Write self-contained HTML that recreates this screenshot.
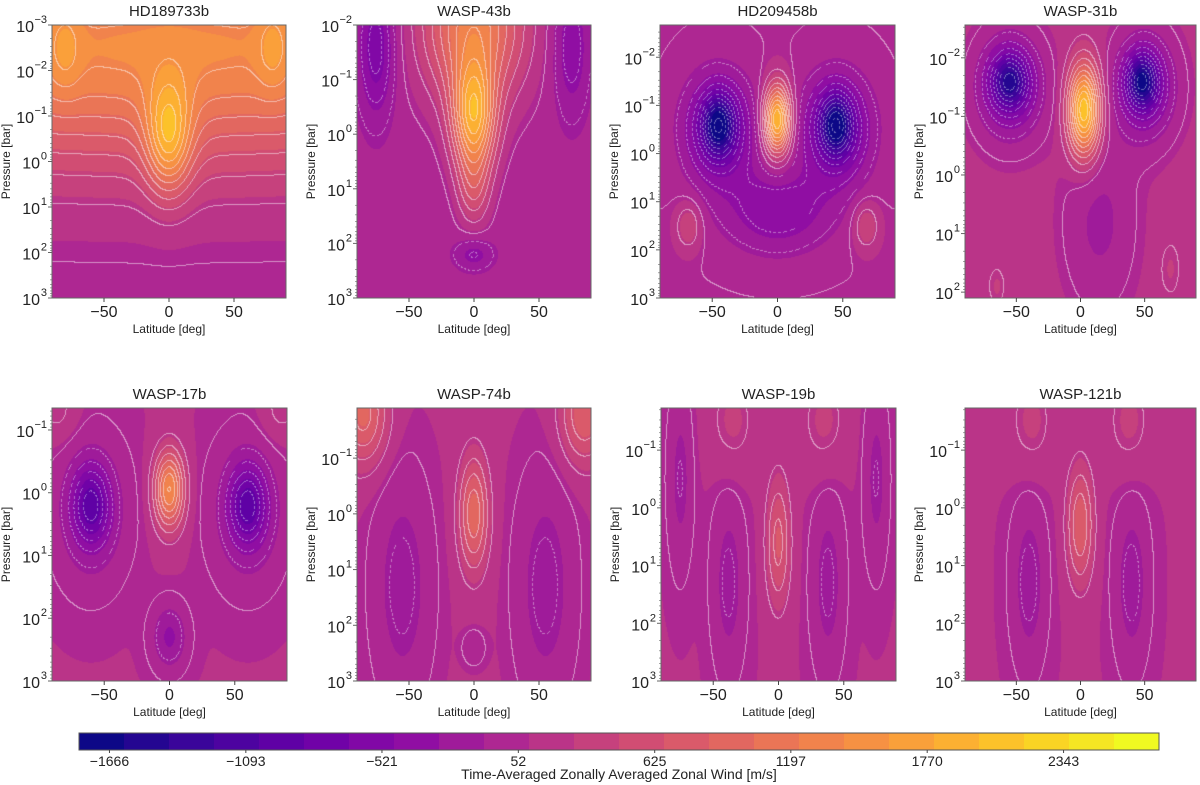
<!DOCTYPE html>
<html><head><meta charset="utf-8">
<style>
html,body{margin:0;padding:0;background:#fff;}
#wrap{position:relative;width:1200px;height:785px;overflow:hidden;font-family:"Liberation Sans",sans-serif;}
canvas{position:absolute;}
svg{position:absolute;left:0;top:0;}
</style></head>
<body>
<div id="wrap">
<svg id="ov" width="1200" height="785"></svg>
</div>
<script>
// ---- data: each panel's wind field is a sum of Gaussian jets (lat deg, log10 p bar, amplitude m/s, lat width, logp width)
const panelNames = ["HD189733b","WASP-43b","HD209458b","WASP-31b","WASP-17b","WASP-74b","WASP-19b","WASP-121b"];
const panelBackground = [0, -20, 60, 150, 100, 110, 100, 100];
const panelLogPTop = [-3, -2, -2.67, -2.56, -1.35, -1.9, -1.73, -1.73];
const panelLogPBottom = [3, 3, 3, 2.1, 3, 3, 3, 3];

const jetLat_HD189733b = [0, 0, -80, 80];
const jetLogP_HD189733b = [-2.5, -0.5, -2.5, -2.5];
const jetAmp_HD189733b = [1450, 1200, 300, 300];
const jetWLat_HD189733b = [400, 17, 12, 12];
const jetWLogP_HD189733b = [2.6, 1.2, 1.0, 1.0];

const jetLat_WASP43b = [0, 0, 0, -75, 75, 0];
const jetLogP_WASP43b = [-0.3, -2, 1.0, -1.6, -1.6, 2.2];
const jetAmp_WASP43b = [1700, 1300, 500, -600, -420, -350];
const jetWLat_WASP43b = [16, 38, 12, 14, 14, 15];
const jetWLogP_WASP43b = [1.0, 1.4, 0.7, 1.3, 1.3, 0.3];

const jetLat_HD209458b = [-45, 45, -45, 45, 0, 0, -68, 68];
const jetLogP_HD209458b = [-0.6, -0.6, -0.5, -0.5, -0.7, 1.2, 1.5, 1.5];
const jetAmp_HD209458b = [-1100, -1100, -900, -900, 1950, -500, 400, 400];
const jetWLat_HD209458b = [12, 12, 26, 26, 10, 42, 10, 10];
const jetWLogP_HD209458b = [0.6, 0.6, 1.1, 1.1, 0.7, 0.9, 0.5, 0.5];

const jetLat_WASP31b = [-55, 48, -55, 50, 3, 15, 70, -65];
const jetLogP_WASP31b = [-1.6, -1.6, -1.5, -1.5, -1.1, 0.8, 1.6, 1.9];
const jetAmp_WASP31b = [-1000, -1200, -750, -750, 2000, -280, 150, 150];
const jetWLat_WASP31b = [14, 12, 26, 24, 12, 28, 10, 8];
const jetWLogP_WASP31b = [0.45, 0.45, 0.9, 0.9, 0.75, 1.5, 0.6, 0.4];

const jetLat_WASP17b = [-60, 60, -60, 60, 0, 0, -85, 85];
const jetLogP_WASP17b = [0.2, 0.2, 0.3, 0.3, -0.05, 2.3, -1.3, -1.3];
const jetAmp_WASP17b = [-750, -750, -380, -380, 1300, -420, 200, 200];
const jetWLat_WASP17b = [14, 14, 26, 26, 11, 13, 15, 15];
const jetWLogP_WASP17b = [0.6, 0.6, 1.1, 1.1, 0.6, 0.5, 0.5, 0.5];

const jetLat_WASP74b = [-55, 55, 0, -85, 85, 0];
const jetLogP_WASP74b = [1.3, 1.3, 0.0, -1.8, -1.8, 2.4];
const jetAmp_WASP74b = [-300, -300, 850, 800, 700, -200];
const jetWLat_WASP74b = [22, 22, 11, 18, 18, 8];
const jetWLogP_WASP74b = [2.0, 2.0, 1.0, 0.9, 0.9, 0.3];

const jetLat_WASP19b = [0, -38, 38, -75, 75, -35, 35];
const jetLogP_WASP19b = [0.6, 1.3, 1.3, -0.5, -0.5, -1.5, -1.5];
const jetAmp_WASP19b = [600, -280, -280, -250, -250, 220, 220];
const jetWLat_WASP19b = [9, 12, 12, 9, 9, 18, 18];
const jetWLogP_WASP19b = [1.1, 1.5, 1.5, 1.5, 1.5, 0.9, 0.9];

const jetLat_WASP121b = [0, -40, 40, -38, 38];
const jetLogP_WASP121b = [0.3, 1.3, 1.3, -1.5, -1.5];
const jetAmp_WASP121b = [700, -300, -300, 220, 220];
const jetWLat_WASP121b = [10, 13, 13, 18, 18];
const jetWLogP_WASP121b = [1.0, 1.4, 1.4, 0.9, 0.9];

const colorbarTicks = [-1666, -1093, -521, 52, 625, 1197, 1770, 2343];
const contourBase = 52, contourStep = 191;
const vMin = -1794, vMax = 2744, nBins = 24;
const latTicks = [-50, 0, 50];

const jets = [
 [jetLat_HD189733b, jetLogP_HD189733b, jetAmp_HD189733b, jetWLat_HD189733b, jetWLogP_HD189733b],
 [jetLat_WASP43b, jetLogP_WASP43b, jetAmp_WASP43b, jetWLat_WASP43b, jetWLogP_WASP43b],
 [jetLat_HD209458b, jetLogP_HD209458b, jetAmp_HD209458b, jetWLat_HD209458b, jetWLogP_HD209458b],
 [jetLat_WASP31b, jetLogP_WASP31b, jetAmp_WASP31b, jetWLat_WASP31b, jetWLogP_WASP31b],
 [jetLat_WASP17b, jetLogP_WASP17b, jetAmp_WASP17b, jetWLat_WASP17b, jetWLogP_WASP17b],
 [jetLat_WASP74b, jetLogP_WASP74b, jetAmp_WASP74b, jetWLat_WASP74b, jetWLogP_WASP74b],
 [jetLat_WASP19b, jetLogP_WASP19b, jetAmp_WASP19b, jetWLat_WASP19b, jetWLogP_WASP19b],
 [jetLat_WASP121b, jetLogP_WASP121b, jetAmp_WASP121b, jetWLat_WASP121b, jetWLogP_WASP121b]
];

// ---- layout
const boxes = [
 {x:52,y:25,w:234,h:273},{x:357,y:25,w:234,h:273},{x:660,y:25,w:235,h:273},{x:965,y:25,w:231,h:273},
 {x:52,y:408,w:235,h:273},{x:357,y:408,w:234,h:273},{x:661,y:408,w:235,h:273},{x:965,y:408,w:231,h:273}
];
const plasmaStops = ["#0d0887","#41049d","#6a00a8","#8f0da4","#b12a90","#cc4778","#e16462","#f2844b","#fca636","#fcce25","#f0f921"];
function hex(c){return [parseInt(c.substr(1,2),16),parseInt(c.substr(3,2),16),parseInt(c.substr(5,2),16)];}
const pst = plasmaStops.map(hex);
function plasma(t){t=Math.max(0,Math.min(1,t));const f=t*10,i=Math.min(9,Math.floor(f)),r=f-i;
 return [0,1,2].map(k=>Math.round(pst[i][k]+(pst[i+1][k]-pst[i][k])*r));}
function binColor(v){let b=Math.floor((v-vMin)/((vMax-vMin)/nBins));b=Math.max(0,Math.min(nBins-1,b));return plasma(b/(nBins-1));}

const NS="http://www.w3.org/2000/svg";
const ov=document.getElementById('ov');
function el(tag,attrs,parent){const e=document.createElementNS(NS,tag);for(const k in attrs)e.setAttribute(k,attrs[k]);(parent||ov).appendChild(e);return e;}

function field(p,lat,L){
 const J=jets[p];let u=panelBackground[p];
 for(let i=0;i<J[0].length;i++){const a=(lat-J[0][i])/J[3][i],b=(L-J[1][i])/J[4][i];u+=J[2][i]*Math.exp(-a*a-b*b);}
 return u;
}

const wrap=document.getElementById('wrap');
boxes.forEach((bx,p)=>{
 const L0=panelLogPTop[p],L1=panelLogPBottom[p];
 const xS=lat=>bx.x+(lat+90)/180*bx.w;
 const yS=L=>bx.y+(L-L0)/(L1-L0)*bx.h;
 const cv=document.createElement('canvas');
 cv.width=bx.w;cv.height=bx.h;cv.style.left=bx.x+'px';cv.style.top=bx.y+'px';
 
 
 wrap.insertBefore(cv,ov);
 const ctx=cv.getContext('2d');const img=ctx.createImageData(bx.w,bx.h);
 const U=new Float32Array(bx.w*bx.h);
 for(let y=0;y<bx.h;y++)for(let x=0;x<bx.w;x++){
  const lat=-90+(x+0.5)/bx.w*180,L=L0+(y+0.5)/bx.h*(L1-L0);U[y*bx.w+x]=field(p,lat,L);}
 const lev=v=>Math.floor((v-contourBase)/contourStep);
 for(let y=0;y<bx.h;y++)for(let x=0;x<bx.w;x++){
  const i=y*bx.w+x,v=U[i];let c=binColor(v);
  const k=lev(v);let line=false,neg=false;
  if(x+1<bx.w&&lev(U[i+1])!==k){line=true;neg=Math.max(k,lev(U[i+1]))<=-1;}
  if(y+1<bx.h&&lev(U[i+bx.w])!==k){line=true;neg=neg||Math.max(k,lev(U[i+bx.w]))<=-1;}
  if(line&&(!neg||((x+y)%5<3))){const a=neg?0.4:0.5;c=c.map(q=>Math.round(q+(255-q)*a));}
  img.data[i*4]=c[0];img.data[i*4+1]=c[1];img.data[i*4+2]=c[2];img.data[i*4+3]=255;}
 ctx.putImageData(img,0,0);

 const g=el('g',{});
 
 
 const t=el('text',{x:bx.x+bx.w/2,y:bx.y-9,'text-anchor':'middle','font-size':'15',fill:'#222'},g);
 t.textContent=panelNames[p];
 
 
 const fr=el('rect',{x:bx.x,y:bx.y,width:bx.w,height:bx.h,fill:'none',stroke:'#666','stroke-width':1},g);
 
 
 latTicks.forEach(v=>{
  const x=xS(v);
  el('line',{x1:x,x2:x,y1:bx.y+bx.h,y2:bx.y+bx.h+4,stroke:'#444'},g);
  const tl=el('text',{x:x,y:bx.y+bx.h+19,'text-anchor':'middle','font-size':'16',fill:'#222'},g);
  tl.textContent=(v<0?'\u2212':'')+Math.abs(v);
  
  
 });
 const xl=el('text',{x:bx.x+bx.w/2,y:bx.y+bx.h+35,'text-anchor':'middle','font-size':'12',fill:'#222'},g);
 xl.textContent='Latitude [deg]';
 
 
 for(let d=Math.floor(L0);d<=Math.ceil(L1);d++){
  for(let m=1;m<10;m++){const L=d+Math.log10(m);if(L<L0-1e-6||L>L1+1e-6)continue;
   const y=yS(L);el('line',{x1:bx.x-(m===1?4:2),x2:bx.x,y1:y,y2:y,stroke:'#666','stroke-width':m===1?1:0.6},g);}
  if(d>=L0-0.05&&d<=L1+0.05){
   const y=yS(d);
   const ex=(d<0?'\u2212':'')+Math.abs(d);
   const exW=ex.length*6;
   const tx=el('text',{x:bx.x-6-exW,y:y+7,'text-anchor':'end','font-size':'16',fill:'#222'},g);
   tx.textContent='10';
   
   
   const et=el('text',{x:bx.x-5,y:y-2,'text-anchor':'end','font-size':'11',fill:'#222'},g);
   et.textContent=ex;
  }
 }
 const yl=el('text',{x:0,y:0,'text-anchor':'middle','font-size':'12',fill:'#222',transform:`translate(${bx.x-42},${bx.y+bx.h/2}) rotate(-90)`},g);
 yl.textContent='Pressure [bar]';
 
 
});

// ---- colorbar
const cb={x:79,y:733,w:1080,h:17};
const cbg=el('g',{});


for(let i=0;i<nBins;i++){
 const c=plasma(i/(nBins-1));
 const r=el('rect',{x:cb.x+i*cb.w/nBins,y:cb.y,width:cb.w/nBins+0.5,height:cb.h,fill:`rgb(${c})`},cbg);
 
 
}
el('rect',{x:cb.x,y:cb.y,width:cb.w,height:cb.h,fill:'none',stroke:'#555'},cbg);
colorbarTicks.forEach(v=>{
 const x=cb.x+(v-vMin)/(vMax-vMin)*cb.w;
 el('line',{x1:x,x2:x,y1:cb.y+cb.h,y2:cb.y+cb.h+3,stroke:'#444'},cbg);
 const t=el('text',{x:x,y:cb.y+cb.h+16,'text-anchor':'middle','font-size':'14',fill:'#222'},cbg);
 t.textContent=(v<0?'\u2212':'')+Math.abs(v);
 
 
});
const cl=el('text',{x:cb.x+cb.w/2,y:779,'text-anchor':'middle','font-size':'14',fill:'#222'},cbg);
cl.textContent='Time-Averaged Zonally Averaged Zonal Wind [m/s]';


</script>
</body></html>
